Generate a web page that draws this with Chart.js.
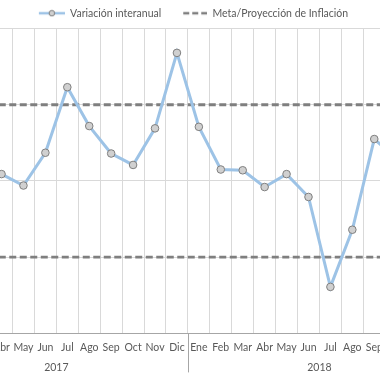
<!DOCTYPE html>
<html>
<head>
<meta charset="utf-8">
<script src="https://cdn.jsdelivr.net/npm/chart.js@4.4.1/dist/chart.umd.min.js"></script>
<style>
  html, body { margin: 0; padding: 0; background: #fff; overflow: hidden; }
  #wrap { position: relative; width: 380px; height: 380px; overflow: hidden; }
  #wrap canvas { position: absolute; top: 0; left: -81px; }
</style>
</head>
<body>
<div id="wrap"><canvas id="inflChart" width="537" height="380"></canvas></div>
<script>
/* ---------- DATA ---------- */
const months = [
  "Ene", "Feb", "Mar", "Abr", "May", "Jun", "Jul", "Ago", "Sep", "Oct", "Nov", "Dic",
  "Ene", "Feb", "Mar", "Abr", "May", "Jun", "Jul", "Ago", "Sep", "Oct", "Nov", "Dic",
];
const years = ["2017", "2018"];
const variacion = [
  null, null, null, 4.09, 3.94, 4.37, 5.23, 4.72, 4.36, 4.21, 4.69, 5.68,
  4.71, 4.15, 4.14, 3.92, 4.09, 3.79, 2.61, 3.36, 4.55, 4.3, null, null,
];
const metaSup = [5, 5, 5, 5, 5, 5, 5, 5, 5, 5, 5, 5, 5, 5, 5, 5, 5, 5, 5, 5, 5, 5, 5, 5];
const metaInf = [3, 3, 3, 3, 3, 3, 3, 3, 3, 3, 3, 3, 3, 3, 3, 3, 3, 3, 3, 3, 3, 3, 3, 3];

const FONT = "Lato, 'Open Sans', sans-serif";
const TEXT = "#595959";
const BLUE = "#9dc3e6";
const DASH = "#7f7f7f";

/* ---------- LEGEND ICONS ---------- */
// 12px of blank space on the left keeps the items apart without a tall legend
function lineIcon() {
  const c = document.createElement("canvas");
  c.width = 38; c.height = 8;
  const g = c.getContext("2d");
  g.strokeStyle = BLUE; g.lineWidth = 2.5;
  g.beginPath(); g.moveTo(12, 4); g.lineTo(38, 4); g.stroke();
  g.beginPath(); g.arc(25, 4, 2.8, 0, Math.PI * 2);
  g.fillStyle = "#d0d0d0"; g.fill();
  g.strokeStyle = DASH; g.lineWidth = 1; g.stroke();
  return c;
}
function dashIcon() {
  const c = document.createElement("canvas");
  c.width = 38; c.height = 6;
  const g = c.getContext("2d");
  g.strokeStyle = DASH; g.lineWidth = 2.5;
  g.setLineDash([6, 3]);
  g.beginPath(); g.moveTo(14, 3); g.lineTo(38, 3); g.stroke();
  return c;
}

/* ---------- YEAR ROW ---------- */
const yearAxis = {
  id: "yearAxis",
  afterDraw(chart) {
    const x = chart.scales.x;
    const ctx = chart.ctx;
    const half = (x.getPixelForValue(1) - x.getPixelForValue(0)) / 2;
    const bottom = chart.chartArea.bottom;
    ctx.save();
    ctx.strokeStyle = "#a6a6a6";
    ctx.lineWidth = 1;
    for (let i = 0; i <= years.length; i++) {
      const px = Math.round(x.getPixelForValue(i * 12) - half) + 0.5;
      ctx.beginPath(); ctx.moveTo(px, bottom); ctx.lineTo(px, bottom + 39); ctx.stroke();
    }
    ctx.fillStyle = TEXT;
    ctx.font = "10.5px " + FONT;
    ctx.textAlign = "center";
    ctx.textBaseline = "middle";
    years.forEach((y, i) => {
      const cx = (x.getPixelForValue(i * 12) + x.getPixelForValue(i * 12 + 11)) / 2;
      ctx.fillText(y, cx, 368);
    });
    ctx.restore();
  },
};

/* ---------- CHART ---------- */
new Chart(document.getElementById("inflChart"), {
  type: "line",
  data: {
    labels: months,
    datasets: [
      {
        label: "Variación interanual",
        data: variacion,
        borderColor: BLUE,
        borderWidth: 3,
        pointRadius: 3.8,
        pointBackgroundColor: "#d0d0d0",
        pointBorderColor: DASH,
        pointBorderWidth: 1,
        pointStyle: "circle",
        tension: 0,
        order: 0,
      },
      {
        label: "Meta/Proyección de Inflación",
        data: metaSup,
        borderColor: DASH,
        borderWidth: 2.8,
        borderDash: [7, 3.5],
        pointRadius: 0,
        order: 1,
      },
      {
        label: "metaInf",
        data: metaInf,
        borderColor: DASH,
        borderWidth: 2.8,
        borderDash: [7, 3.5],
        pointRadius: 0,
        order: 1,
      },
    ],
  },
  options: {
    responsive: false,
    animation: false,
    layout: { padding: { top: 0, left: 0, right: 0, bottom: 18 } },
    plugins: {
      tooltip: { enabled: false },
      legend: {
        position: "top",
        labels: {
          usePointStyle: true,
          pointStyleWidth: 38,
          padding: 8,
          color: TEXT,
          font: { family: FONT, size: 10.5 },
          generateLabels(chart) {
            return [
              { text: "Variación interanual", pointStyle: lineIcon(), fontColor: TEXT, datasetIndex: 0, lineWidth: 0, strokeStyle: "rgba(0,0,0,0)" },
              { text: "Meta/Proyección de Inflación", pointStyle: dashIcon(), fontColor: TEXT, datasetIndex: 1, lineWidth: 0, strokeStyle: "rgba(0,0,0,0)" },
            ];
          },
        },
      },
    },
    scales: {
      x: {
        offset: true,
        grid: { offset: true, color: "#d9d9d9", drawTicks: false },
        border: { color: "#a6a6a6" },
        ticks: {
          color: TEXT,
          font: { family: FONT, size: 10.5 },
          padding: 8,
          maxRotation: 0,
          autoSkip: false,
        },
      },
      y: {
        min: 2,
        max: 6,
        ticks: { display: false, stepSize: 1 },
        grid: { color: "#d9d9d9", drawTicks: false },
        border: { display: false },
      },
    },
  },
  plugins: [yearAxis],
});
</script>
</body>
</html>
